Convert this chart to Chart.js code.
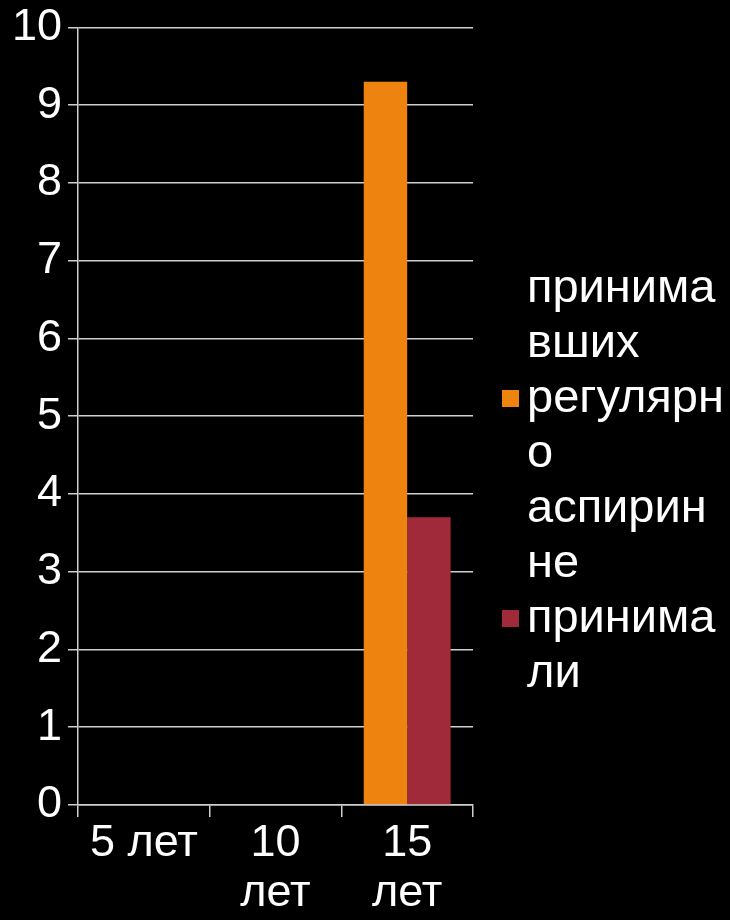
<!DOCTYPE html>
<html>
<head>
<meta charset="utf-8">
<script src="https://cdn.jsdelivr.net/npm/chart.js@4"></script>
<style>
  html, body { margin: 0; padding: 0; background: #000; }
  #wrap { width: 730px; height: 920px; position: relative; }
</style>
</head>
<body>
<div id="wrap"><canvas id="chart"></canvas></div>
<script>
// Data
const categories = [['5 лет'], ['10', 'лет'], ['15', 'лет']];
const seriesNames = ['принимавших регулярно аспирин', 'не принимали'];
const legendLines = [
    ['принима', 'вших', 'регулярн', 'о', 'аспирин'],
    ['не', 'принима', 'ли']
];
const legendBoxLine = [2, 1];
const regularValues = [0, 0, 9.3];
const notTakingValues = [0, 0, 3.7];
const yTicks = [0, 1, 2, 3, 4, 5, 6, 7, 8, 9, 10];

const colors = ['#EE830F', '#A12A3A'];
const gridColor = '#cfcfcf';
const fontFamily = 'Liberation Sans, Arial, sans-serif';
const font = { family: fontFamily, size: 45 };

// legend wrapped like the original slide, box on the middle line of each entry
const wrappedLegend = {
    id: 'wrappedLegend',
    afterDraw(chart) {
        const ctx = chart.ctx;
        const x = 527, firstBaseline = 302, step = 55, box = 17;
        let line = 0;
        ctx.save();
        ctx.font = '47px ' + fontFamily;
        ctx.textBaseline = 'alphabetic';
        ctx.textAlign = 'left';
        chart.data.datasets.forEach((ds, i) => {
            legendLines[i].forEach((txt, j) => {
                const y = firstBaseline + line * step;
                if (j === legendBoxLine[i]) {
                    ctx.fillStyle = ds.backgroundColor;
                    ctx.fillRect(x - 25, y - 22, box, box);
                }
                ctx.fillStyle = '#fff';
                ctx.fillText(txt, x, y);
                line++;
            });
        });
        ctx.restore();
    }
};

new Chart(document.getElementById('chart'), {
    type: 'bar',
    data: {
        labels: categories,
        datasets: [
            { label: seriesNames[0], data: regularValues, backgroundColor: colors[0], borderWidth: 0 },
            { label: seriesNames[1], data: notTakingValues, backgroundColor: colors[1], borderWidth: 0 }
        ]
    },
    options: {
        responsive: true,
        maintainAspectRatio: false,
        animation: false,
        layout: { padding: { top: 0, left: 6, right: 257, bottom: 0 } },
        datasets: { bar: { categoryPercentage: 0.66, barPercentage: 1.0 } },
        scales: {
            x: {
                grid: { offset: true, drawOnChartArea: false, drawTicks: true, tickLength: 12, color: gridColor, lineWidth: 1.5 },
                border: { color: gridColor, width: 1.5 },
                ticks: { color: '#fff', font: { ...font, lineHeight: 1.1 }, maxRotation: 0, autoSkip: false, padding: 2 }
            },
            y: {
                min: 0,
                max: 10,
                afterBuildTicks: axis => { axis.ticks = yTicks.map(v => ({ value: v })); },
                grid: { color: gridColor, lineWidth: 1.5, tickLength: 10 },
                border: { color: gridColor, width: 1.5 },
                ticks: { color: '#fff', font: { ...font, lineHeight: 0.95 }, padding: 6 }
            }
        },
        plugins: {
            tooltip: { enabled: false },
            legend: { display: false }
        }
    },
    plugins: [wrappedLegend]
});
</script>
</body>
</html>
